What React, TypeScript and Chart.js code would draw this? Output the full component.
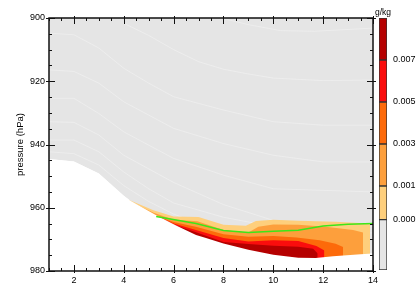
import React, { useEffect, useRef } from 'react';
import { Chart, registerables } from 'chart.js';

Chart.register(...registerables);

const FONT = "'Liberation Sans', Arial, Helvetica, sans-serif";

// ---- axes ----
const X_MIN = 1;
const X_MAX = 14;
const P_MIN = 900;
const P_MAX = 980;
const xLabelValues = [2, 4, 6, 8, 10, 12, 14];
const pLabelValues = [900, 920, 940, 960, 980];

// ---- terrain / surface pressure (hPa) ----
const surface: [number, number][] = [
  [1, 944.6], [2, 945.4], [3, 949.2], [4, 956.2], [4.25, 957.7], [5.3, 962.4],
  [6.1, 965.6], [6.9, 968.6], [7.3, 969.6], [8, 971.3], [9, 973.3], [10, 974.9],
  [11, 975.8], [11.7, 975.9], [12.4, 975.3], [13.5, 974.7], [14, 974.5],
];

// ---- specific humidity contour tops (g/kg levels) ----
const level0000: [number, number][] = [
  [4.19, 957.5], [5.19, 960.8], [6.0, 962.8], [7.0, 962.9], [8.0, 965.4], [8.9, 965.7],
  [9.3, 964.2], [10, 963.8], [11, 964.1], [12.5, 964.4], [13.45, 964.8], [13.88, 965.2],
];
const level0001: [number, number][] = [
  [4.25, 958.0], [5.2, 961.6], [6.0, 963.8], [6.95, 964.3], [8.0, 967.0], [9.0, 967.8],
  [9.4, 966.0], [10, 965.3], [11, 965.4], [12.1, 966.0], [13.2, 967.0], [13.6, 967.8],
];
const level0003: [number, number][] = [
  [5.39, 962.8], [6.0, 964.5], [6.93, 966.1], [8.0, 968.4], [9.0, 969.2], [10, 968.9],
  [10.93, 969.4], [11.86, 970.3], [12.5, 971.4], [12.8, 972.4],
];
const level0005: [number, number][] = [
  [5.46, 963.1], [6.0, 965.0], [6.93, 967.1], [8.0, 969.6], [9.0, 970.7], [10, 970.3],
  [11, 970.5], [11.73, 972.1], [12.05, 973.5],
];
const level0007: [number, number][] = [
  [5.59, 963.6], [6.0, 965.4], [6.93, 967.8], [8.0, 970.8], [9.0, 971.5], [10, 972.0],
  [11, 972.3], [11.6, 973.0], [11.78, 974.5],
];
const contourTops = [level0000, level0001, level0003, level0005, level0007];
const levelColors = ['#fecf7c', '#fd9f3c', '#fd6a0a', '#fa0d0d', '#b50000'];

// ---- green line ----
const greenLine: [number, number][] = [
  [5.3, 962.8], [6.1, 963.9], [6.9, 965.0], [8.0, 967.2], [9.0, 967.8], [10, 967.4],
  [11, 967.1], [12, 965.8], [13, 965.2], [14, 965.0],
];

// ---- faint isolines in the background ----
const iso1: [number, number][] = [[7.9, 900], [9, 902.1], [10.3, 904], [11.65, 904.2], [14, 903.2]];
const iso2: [number, number][] = [[3.98, 901.6], [5, 905.5], [6, 910], [7, 913.8], [8, 916.2], [9, 917.7], [10, 919], [12, 919.8], [14, 919.6]];
const iso3: [number, number][] = [[1, 904.8], [2, 905.3], [3, 909.5], [4, 915.9], [5, 920.6], [6, 924.9], [8, 929.1], [10, 932.8], [12, 933.9], [14, 933.9]];
const iso4: [number, number][] = [[1, 916.4], [2, 916.9], [3, 920.6], [4, 926.5], [6, 934.9], [8, 939.7], [10, 943.4], [12, 945.5], [14, 945.5]];
const iso5: [number, number][] = [[1, 925.4], [2, 925.4], [3, 930.2], [4, 936], [6, 944.4], [8, 949.7], [10, 954], [14, 955]];
const iso6: [number, number][] = [[1, 932.8], [2, 933], [3, 937], [4, 943.4], [6, 952], [8, 959], [10, 964], [12, 966], [14, 966]];
const iso7: [number, number][] = [[1, 938.6], [2, 938.6], [3, 942.3], [4, 948.7], [5, 954], [6, 958.5], [8, 963], [10, 966], [14, 968]];
const iso8: [number, number][] = [[1, 942.3], [2, 942.9], [3, 946.5], [4, 953], [5, 958], [6, 962], [8, 968]];
const isolines = [iso1, iso2, iso3, iso4, iso5, iso6, iso7, iso8];

// ---- colour bar ----
const cbLabels = ['0.000', '0.001', '0.003', '0.005', '0.007'];
const cbBands = [1.2, 0.8, 1, 1, 1, 1];
const GREY = '#e5e5e5';
const cbColors = [GREY, ...levelColors];

const pts = (a: [number, number][]) => a.map(([x, y]) => ({ x, y }));

const framePlugin = {
  id: 'frameTicks',
  afterDraw(chart: any) {
    const { ctx, chartArea: a, scales } = chart;
    const xs = scales.x;
    const ys = scales.y;
    ctx.save();
    ctx.strokeStyle = '#111';
    ctx.lineWidth = 1;
    ctx.beginPath();
    for (let v = X_MIN; v <= X_MAX + 1e-9; v += 0.5) {
      const px = Math.round(xs.getPixelForValue(v)) + 0.5;
      const major = Math.abs(v % 2) < 1e-9;
      const inL = major ? 6 : 3;
      const outL = major ? 2 : 0;
      ctx.moveTo(px, a.bottom + outL);
      ctx.lineTo(px, a.bottom - inL);
      ctx.moveTo(px, a.top - outL);
      ctx.lineTo(px, a.top + inL);
    }
    for (let v = P_MIN; v <= P_MAX + 1e-9; v += 5) {
      const py = Math.round(ys.getPixelForValue(v)) + 0.5;
      const major = Math.abs(v % 20) < 1e-9;
      const inL = major ? 6 : 3;
      const outL = major ? 3 : 0;
      ctx.moveTo(a.left - outL, py);
      ctx.lineTo(a.left + inL, py);
      ctx.moveTo(a.right + outL, py);
      ctx.lineTo(a.right - inL, py);
    }
    ctx.stroke();
    ctx.lineWidth = 1.5;
    ctx.strokeRect(a.left, a.top, a.right - a.left, a.bottom - a.top);
    ctx.restore();
  },
};

const cbTitlePlugin = {
  id: 'cbTitle',
  afterDraw(chart: any) {
    const { ctx, chartArea: a } = chart;
    ctx.save();
    ctx.fillStyle = '#000';
    ctx.font = `8.5px ${FONT}`;
    ctx.textAlign = 'center';
    ctx.textBaseline = 'alphabetic';
    ctx.fillText('g/kg', (a.left + a.right) / 2, a.top - 3);
    ctx.restore();
  },
};

export default function App() {
  const mainRef = useRef<HTMLCanvasElement>(null);
  const cbRef = useRef<HTMLCanvasElement>(null);

  useEffect(() => {
    const datasets: any[] = [];
    datasets.push({
      data: pts(surface), fill: { value: P_MIN }, backgroundColor: GREY,
      borderWidth: 0, borderColor: 'rgba(0,0,0,0)', pointRadius: 0, order: 40,
    });
    isolines.forEach((l) =>
      datasets.push({
        data: pts(l), fill: false, borderColor: 'rgba(255,255,255,0.3)',
        borderWidth: 1, pointRadius: 0, order: 30,
      })
    );
    contourTops.forEach((l, i) =>
      datasets.push({
        data: pts(l), fill: { value: P_MAX }, backgroundColor: levelColors[i],
        borderWidth: 0, borderColor: 'rgba(0,0,0,0)', pointRadius: 0, order: 20 - i,
      })
    );
    datasets.push({
      data: pts(surface), fill: { value: P_MAX }, backgroundColor: '#ffffff',
      borderWidth: 0, borderColor: 'rgba(0,0,0,0)', pointRadius: 0, order: 5,
    });
    datasets.push({
      data: pts(greenLine), fill: false, borderColor: '#3ce619',
      borderWidth: 1.5, pointRadius: 0, order: 1,
    });

    const main = new Chart(mainRef.current!, {
      type: 'line',
      data: { datasets },
      options: {
        animation: false,
        responsive: false,
        events: [],
        layout: { padding: { left: 0, top: 18, right: 43, bottom: 0 } },
        plugins: { legend: { display: false }, tooltip: { enabled: false } },
        elements: { line: { tension: 0 } },
        scales: {
          x: {
            type: 'linear', min: X_MIN, max: X_MAX, z: 1,
            grid: { color: 'rgba(255,255,255,0.35)', lineWidth: 1, drawTicks: false },
            border: { display: false },
            ticks: {
              stepSize: 1, autoSkip: false, maxRotation: 0, padding: 4, color: '#000',
              font: { family: FONT, size: 9 },
              callback: (v: any) => (xLabelValues.includes(Number(v)) ? String(v) : ''),
            },
            afterFit: (s: any) => { s.height = 17; },
          },
          y: {
            type: 'linear', min: P_MIN, max: P_MAX, reverse: true,
            grid: { display: false, drawTicks: false },
            border: { display: false },
            ticks: {
              stepSize: 20, padding: 4, color: '#000',
              font: { family: FONT, size: 9 },
              callback: (v: any) => (pLabelValues.includes(Number(v)) ? String(v) : ''),
            },
            title: {
              display: true, text: 'pressure (hPa)', color: '#000',
              font: { family: FONT, size: 9.5 }, padding: { top: 15, bottom: 0 },
            },
            afterFit: (s: any) => { s.width = 49; },
          },
        },
      },
      plugins: [framePlugin],
    } as any);

    const total = cbBands.reduce((s, v) => s + v, 0);
    const edges: number[] = [];
    let acc = 0;
    cbBands.forEach((b, i) => { acc += b; if (i < cbBands.length - 1) edges.push(acc); });

    const cb = new Chart(cbRef.current!, {
      type: 'bar',
      data: {
        labels: [''],
        datasets: cbBands.map((v, i) => ({
          data: [v], backgroundColor: cbColors[i], borderColor: '#333', borderWidth: 1,
          borderSkipped: false, barPercentage: 1, categoryPercentage: 1, stack: 'cb',
        })),
      },
      options: {
        animation: false,
        responsive: false,
        events: [],
        layout: { padding: { left: 379, top: 18, right: 0, bottom: 18 } },
        plugins: { legend: { display: false }, tooltip: { enabled: false } },
        scales: {
          x: { display: false, stacked: true },
          y: {
            position: 'right', stacked: true, min: 0, max: total,
            grid: { display: false, drawTicks: false },
            border: { display: false },
            afterBuildTicks: (s: any) => { s.ticks = edges.map((value) => ({ value })); },
            ticks: {
              padding: 6, color: '#000', font: { family: FONT, size: 9 },
              callback: (_v: any, i: number) => cbLabels[i],
            },
            afterFit: (s: any) => { s.width = 29; },
          },
        },
      },
      plugins: [cbTitlePlugin],
    } as any);

    return () => {
      main.destroy();
      cb.destroy();
    };
  }, []);

  return (
    <div style={{ position: 'fixed', left: 0, top: 0, width: 416, height: 288, background: '#fff', overflow: 'hidden' }}>
      <canvas ref={mainRef} width={416} height={288} style={{ position: 'absolute', left: 0, top: 0, width: 416, height: 288 }} />
      <canvas ref={cbRef} width={416} height={288} style={{ position: 'absolute', left: 0, top: 0, width: 416, height: 288 }} />
    </div>
  );
}
